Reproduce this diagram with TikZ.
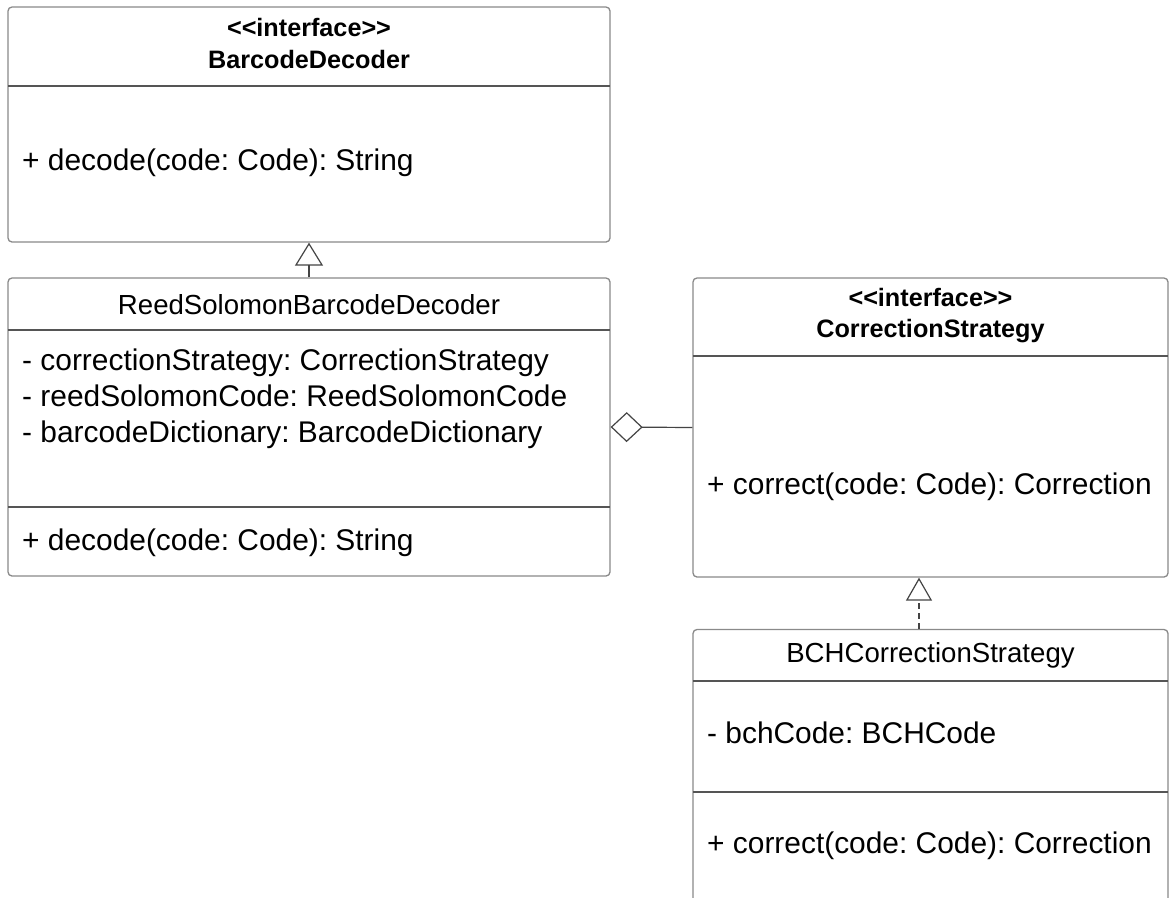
\documentclass[tikz,border=0pt]{standalone}
\usepackage{fontspec}
\setmainfont{Liberation Sans}
\usetikzlibrary{arrows.meta}
\definecolor{boxline}{HTML}{8A8A8A}
\definecolor{sepline}{HTML}{555555}
\definecolor{conn}{HTML}{444444}
\frenchspacing
\tikzset{
  umlbox/.style={draw=boxline, line width=1.3pt, rounded corners=4pt, rectangle, inner sep=0pt, fill=white},
  sep/.style={draw=sepline, line width=1.3pt},
  member/.style={inner sep=0pt, anchor=base west, font=\fontsize{29.9}{35}\selectfont},
  title/.style={inner sep=0pt, anchor=base, font=\fontsize{27.6}{33}\selectfont},
  btitle/.style={inner sep=0pt, anchor=base, font=\bfseries\fontsize{25.2}{30}\selectfont},
  connector/.style={draw=conn, line width=1.2pt},
}
\begin{document}
\begin{tikzpicture}[x=1pt,y=-1pt]
\clip (0,0) rectangle (1170,897);
\fill[white] (0,0) rectangle (1170,897);

% BarcodeDecoder
\node[umlbox, minimum width=602pt, minimum height=235pt] (bd) at (309,124.5) {};
\draw[sep] (8,86) -- (610,86);
\node[btitle] (bdst) at (309,36) {{<}{<}interface{>}{>}};
\node[btitle] (bdt) at (309,68) {BarcodeDecoder};
\node[member] (bdm) at (22,170) {+ decode(code: Code): String};

% ReedSolomonBarcodeDecoder
\node[umlbox, minimum width=602pt, minimum height=298pt] (rs) at (309,427) {};
\draw[sep] (8,330) -- (610,330);
\draw[sep] (8,507) -- (610,507);
\node[title] (rst) at (309,314) {ReedSolomonBarcodeDecoder};
\node[member] (rsa1) at (22,370) {- correctionStrategy: CorrectionStrategy};
\node[member] (rsa2) at (22,406) {- reedSolomonCode: ReedSolomonCode};
\node[member] (rsa3) at (22,442) {- barcodeDictionary: BarcodeDictionary};
\node[member] (rsm) at (22,550) {+ decode(code: Code): String};

% CorrectionStrategy
\node[umlbox, minimum width=475pt, minimum height=299pt] (cs) at (930.5,427.5) {};
\draw[sep] (693,356) -- (1168,356);
\node[btitle] (csst) at (930.5,306) {{<}{<}interface{>}{>}};
\node[btitle] (cst) at (930.5,337) {CorrectionStrategy};
\node[member] (csm) at (707,494) {+ correct(code: Code): Correction};

% BCHCorrectionStrategy
\node[umlbox, minimum width=475pt, minimum height=291pt] (bch) at (930.5,775) {};
\draw[sep] (693,681) -- (1168,681);
\draw[sep] (693,792) -- (1168,792);
\node[title] (bcht) at (930.5,662) {BCHCorrectionStrategy};
\node[member] (bcha) at (707,743) {- bchCode: BCHCode};
\node[member] (bchm) at (707,853) {+ correct(code: Code): Correction};

% Connectors
\draw[connector, -{Triangle[open, length=23pt, width=28pt, line width=1.2pt]}] (rs.north) -- (bd.south);
\draw[connector, -{Diamond[open, length=32pt, width=30pt, line width=1.2pt]}] (cs.west) -- (rs.east);
\draw[connector, dash pattern=on 6pt off 4pt, -{Triangle[open, length=23pt, width=26pt, line width=1.2pt]}] ([xshift=-11.5pt]bch.north) -- ([xshift=-11.5pt]cs.south);
\end{tikzpicture}
\end{document}
